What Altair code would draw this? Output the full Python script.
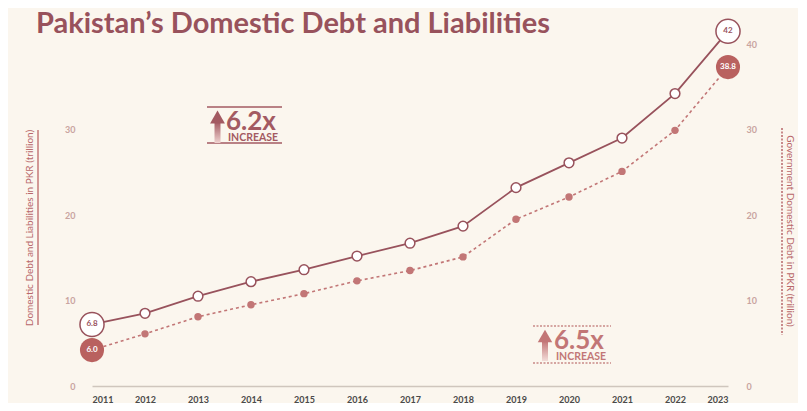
import altair as alt
import pandas as pd

# ---- data ----
years = [2011, 2012, 2013, 2014, 2015, 2016, 2017, 2018, 2019, 2020, 2021, 2022, 2023]
total_debt = [7.2, 8.5, 10.5, 12.2, 13.6, 15.2, 16.7, 18.7, 23.2, 26.1, 29.0, 34.2, 41.5]
govt_debt = [4.2, 6.1, 8.1, 9.5, 10.8, 12.3, 13.5, 15.1, 19.5, 22.1, 25.1, 29.9, 37.3]
total_end_labels = ["6.8", "42"]
govt_end_labels = ["6.0", "38.8"]
left_ticks = [0, 10, 20, 30]
right_ticks = [0, 10, 20, 30, 40]

TITLE = "Pakistan’s Domestic Debt and Liabilities"
LEFT_TITLE = "Domestic Debt and Liabilities in PKR (trillion)"
RIGHT_TITLE = "Government Domestic Debt in PKR (trillion)"

BG = "#fbf6ee"
DARK = "#98525c"
SOFT = "#c27676"
FILL = "#b9615f"
FONT = "Lato"

df = pd.DataFrame({"year": years, "total": total_debt, "govt": govt_debt})
mid = df.iloc[1:-1]
ends = df.iloc[[0, -1]].copy()
ends["tl"] = total_end_labels
ends["gl"] = govt_end_labels
one = pd.DataFrame({"a": [0]})

xenc = alt.X("year:Q", scale=alt.Scale(domain=[2011, 2023], nice=False),
             axis=alt.Axis(values=years, format="d", title=None, ticks=False, grid=False,
                           domainColor="#cfc6bd", domainWidth=1.5, labelFont=FONT,
                           labelFontSize=9, labelFontWeight="bold", labelColor="#4a4a4a",
                           labelPadding=9))
yscale = alt.Scale(domain=[0, 40], nice=False)

def ynone(field):
    return alt.Y(f"{field}:Q", scale=yscale, axis=None)

base = alt.Chart(df)

total_line = base.mark_line(color=DARK, strokeWidth=1.8).encode(
    x=xenc,
    y=alt.Y("total:Q", scale=yscale,
            axis=alt.Axis(orient="left", values=left_ticks, title=None, domain=False, ticks=False,
                          grid=False, labelFont=FONT, labelFontSize=9, labelFontWeight="bold",
                          labelColor="#c9a4a0", labelPadding=17)))

govt_line = base.mark_line(color=SOFT, strokeWidth=1.6, strokeDash=[3, 3]).encode(
    x=xenc,
    y=alt.Y("govt:Q", scale=yscale,
            axis=alt.Axis(orient="right", values=right_ticks, title=None, domain=False, ticks=False,
                          grid=False, labelFont=FONT, labelFontSize=9, labelFontWeight="bold",
                          labelColor="#c9a4a0", labelPadding=18)))

total_pts = alt.Chart(mid).mark_point(shape="circle", filled=True, fill="white", stroke=DARK,
                                      strokeWidth=1.5, size=95, opacity=1).encode(
    x=xenc, y=ynone("total"))
govt_pts = alt.Chart(mid).mark_point(shape="circle", filled=True, color=SOFT, size=55,
                                     opacity=1).encode(x=xenc, y=ynone("govt"))

total_end = alt.Chart(ends).mark_point(shape="circle", filled=True, fill="white", stroke=DARK,
                                       strokeWidth=1.5, size=580, opacity=1).encode(
    x=xenc, y=ynone("total"))
govt_end = alt.Chart(ends).mark_point(shape="circle", filled=True, color=FILL, size=580,
                                      opacity=1).encode(x=xenc, y=ynone("govt"))
total_end_txt = alt.Chart(ends).mark_text(font=FONT, fontSize=8, fontWeight="bold",
                                          color=DARK).encode(x=xenc, y=ynone("total"), text="tl:N")
govt_end_txt = alt.Chart(ends).mark_text(font=FONT, fontSize=8, fontWeight="bold",
                                         color="white").encode(x=xenc, y=ynone("govt"), text="gl:N")

o = alt.Chart(one)

title = o.mark_text(text=TITLE, font=FONT, fontSize=29, fontWeight="bold", color=DARK,
                    align="left", baseline="alphabetic").encode(
    x=alt.value(-56), y=alt.value(-11))

left_title = o.mark_text(text=LEFT_TITLE, font=FONT, fontSize=10, color="#b8676a", angle=270,
                         align="center", baseline="middle").encode(x=alt.value(-62), y=alt.value(184))
left_rule = o.mark_rule(color="#c47878", strokeWidth=1.5).encode(
    x=alt.value(-54), y=alt.value(86), y2=alt.value(281))

right_title = o.mark_text(text=RIGHT_TITLE, font=FONT, fontSize=10, color="#b8676a", angle=90,
                          align="center", baseline="middle").encode(x=alt.value(698), y=alt.value(187))
right_rule = o.mark_rule(color="#b8676a", strokeWidth=1.5, strokeDash=[2, 1.5]).encode(
    x=alt.value(690), y=alt.value(84), y2=alt.value(291))

grad = alt.LinearGradient(gradient="linear", x1=0, x2=0, y1=0, y2=1,
                          stops=[alt.GradientStop(color="#a35a62", offset=0),
                                 alt.GradientStop(color="#efd2cf", offset=1)])
grad2 = alt.LinearGradient(gradient="linear", x1=0, x2=0, y1=0, y2=1,
                           stops=[alt.GradientStop(color="#c27676", offset=0),
                                  alt.GradientStop(color="#f2dcd8", offset=1)])

# annotation 1 (solid)
a1_top = o.mark_rule(color="#a35a62", strokeWidth=1.5).encode(
    x=alt.value(115), x2=alt.value(190), y=alt.value(63))
a1_bot = o.mark_rule(color="#a35a62", strokeWidth=1.5).encode(
    x=alt.value(115), x2=alt.value(190), y=alt.value(99))
a1_head = o.mark_point(shape="triangle-up", filled=True, color="#a35a62", size=220,
                       opacity=1).encode(x=alt.value(125.5), y=alt.value(73))
a1_shaft = o.mark_rect(fill=grad).encode(x=alt.value(122.5), x2=alt.value(128.5),
                                         y=alt.value(78), y2=alt.value(99))
a1_big = o.mark_text(text="6.2x", font=FONT, fontSize=26, fontWeight="bold", color="#a35a62",
                     align="left", baseline="alphabetic").encode(
    x=alt.value(134), y=alt.value(86))
a1_small = o.mark_text(text="INCREASE", font=FONT, fontSize=10.5, fontWeight="bold", color="#a35a62",
                       align="left", baseline="alphabetic").encode(
    x=alt.value(136), y=alt.value(97))

# annotation 2 (dotted)
a2_top = o.mark_rule(color="#c98a88", strokeWidth=1.5, strokeDash=[2, 1.5]).encode(
    x=alt.value(441), x2=alt.value(519), y=alt.value(282))
a2_bot = o.mark_rule(color="#c98a88", strokeWidth=1.5, strokeDash=[2, 1.5]).encode(
    x=alt.value(441), x2=alt.value(519), y=alt.value(319))
a2_head = o.mark_point(shape="triangle-up", filled=True, color="#c27676", size=210,
                       opacity=1).encode(x=alt.value(453), y=alt.value(292))
a2_shaft = o.mark_rect(fill=grad2).encode(x=alt.value(450), x2=alt.value(456),
                                          y=alt.value(297), y2=alt.value(317))
a2_big = o.mark_text(text="6.5x", font=FONT, fontSize=26, fontWeight="bold", color="#c27676",
                     align="left", baseline="alphabetic").encode(
    x=alt.value(462), y=alt.value(305))
a2_small = o.mark_text(text="INCREASE", font=FONT, fontSize=10.5, fontWeight="bold", color="#c27676",
                       align="left", baseline="alphabetic").encode(
    x=alt.value(464), y=alt.value(316))

chart = alt.layer(
    total_line, govt_line, total_pts, govt_pts, total_end, govt_end, total_end_txt, govt_end_txt,
    title, left_title, left_rule, right_title, right_rule,
    a1_top, a1_bot, a1_shaft, a1_head, a1_big, a1_small,
    a2_top, a2_bot, a2_shaft, a2_head, a2_big, a2_small,
).resolve_scale(y="shared").resolve_axis(y="independent").properties(
    width=636, height=342,
    autosize=alt.AutoSizeParams(type="none"),
    padding={"left": 84, "top": 36, "right": 70, "bottom": 17},
    background=BG,
).configure_view(stroke=None)

chart.save("out.html", embed_options={"renderer": "svg", "actions": False})
